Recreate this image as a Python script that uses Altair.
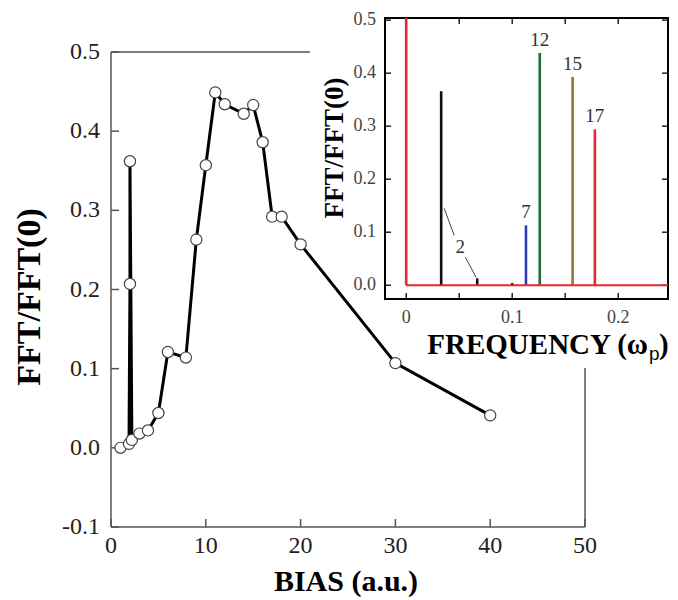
import altair as alt
import pandas as pd

SERIF = "Liberation Serif"

# ---------------- main panel data ----------------
bias = [1.0, 1.9, 2.0, 2.0, 2.2, 3.0, 3.9, 5.0, 6.0, 7.9, 9.0, 10.0, 11.0, 12.0,
        14.0, 15.0, 16.0, 17.0, 18.0, 20.0, 30.0, 40.0]
fft = [0.0, 0.005, 0.207, 0.362, 0.010, 0.018, 0.022, 0.044, 0.121, 0.114, 0.263,
       0.357, 0.449, 0.434, 0.422, 0.433, 0.386, 0.292, 0.292, 0.257, 0.107, 0.041]
x_ticks = [0, 10, 20, 30, 40, 50]
y_ticks = [-0.1, 0.0, 0.1, 0.2, 0.3, 0.4, 0.5]

# ---------------- inset data ----------------
peak_freq = [0.033, 0.067, 0.100, 0.113, 0.126, 0.157, 0.178, 0.0]
peak_amp = [0.366, 0.013, 0.004, 0.113, 0.438, 0.393, 0.294, 1.0]
peak_bias = ["2", "2", "2", "7", "12", "15", "17", "17"]
bias_colors = {"2": "#111111", "7": "#2a3db5", "12": "#1c6b36",
               "15": "#8a7a3c", "17": "#e8262d"}
label_text = ["7", "12", "15", "17"]
label_freq = [0.113, 0.126, 0.157, 0.178]
label_amp = [0.113, 0.438, 0.393, 0.294]
two_label = {"f": 0.051, "a": 0.072}
leader_f = [0.0358, 0.0557]
leader_a = [0.145, 0.053]
leader_f2 = [0.0453, 0.066]
leader_a2 = [0.094, 0.015]
ix_ticks = [0.0, 0.05, 0.1, 0.15, 0.2]
ix_labels = [0.0, 0.1, 0.2]
iy_ticks = [0.0, 0.1, 0.2, 0.3, 0.4, 0.5]

W, H = 474, 475

main_x = alt.Scale(domain=[0, 50], nice=False, zero=False)
main_y = alt.Scale(domain=[-0.1, 0.5], nice=False, zero=False)
ins_x = alt.Scale(domain=[-0.02, 0.247], range=[274, 557], nice=False, zero=False)
ins_y = alt.Scale(domain=[-0.026, 0.504], range=[247, -34], nice=False, zero=False, clamp=True)

one = alt.Data(values=[{"k": 1}])


def IX(f, **kw):
    return alt.X(f, scale=ins_x, axis=None, **kw)


def IY(f, **kw):
    return alt.Y(f, scale=ins_y, axis=None, **kw)


def MX(f):
    return alt.X(f, scale=main_x, axis=None)


def MY(f):
    return alt.Y(f, scale=main_y, axis=None)


AX = "#555"

# ---------------- main panel ----------------
df_main = pd.DataFrame({"bias": bias, "fft": fft, "i": list(range(len(bias)))})

line = alt.Chart(df_main).mark_line(color="black", strokeWidth=3).encode(
    x=MX("bias:Q"), y=MY("fft:Q"), order="i:Q")
points = alt.Chart(df_main).mark_circle(
    color="white", stroke="#444", strokeWidth=1.2, size=125, opacity=1).encode(
    x=MX("bias:Q"), y=MY("fft:Q"))

xt = alt.Chart(pd.DataFrame({"v": x_ticks})).mark_rule(color=AX, strokeWidth=1.5).encode(
    x=MX("v:Q"), y=alt.value(H), y2=alt.value(H - 8))
yt = alt.Chart(pd.DataFrame({"v": y_ticks})).mark_rule(color=AX, strokeWidth=1.5).encode(
    y=MY("v:Q"), x=alt.value(0), x2=alt.value(8))
xl = alt.Chart(pd.DataFrame({"v": x_ticks, "t": [str(v) for v in x_ticks]})).mark_text(
    font=SERIF, fontSize=24, color="#222", baseline="middle").encode(
    x=MX("v:Q"), y=alt.value(H + 19), text="t:N")
yl = alt.Chart(pd.DataFrame({"v": y_ticks, "t": [f"{v:.1f}" for v in y_ticks]})).mark_text(
    font=SERIF, fontSize=24, color="#222", baseline="middle", align="right").encode(
    y=MY("v:Q"), x=alt.value(-11), text="t:N")
left_rule = alt.Chart(one).mark_rule(color=AX, strokeWidth=1.5).encode(
    x=alt.value(0), y=alt.value(0), y2=alt.value(H))
bottom_rule = alt.Chart(one).mark_rule(color=AX, strokeWidth=1.5).encode(
    x=alt.value(0), x2=alt.value(W), y=alt.value(H))
top_rule = alt.Chart(one).mark_rule(color=AX, strokeWidth=1.5).encode(
    x=alt.value(0), x2=alt.value(199), y=alt.value(0))
right_rule = alt.Chart(one).mark_rule(color=AX, strokeWidth=1.5).encode(
    x=alt.value(W), y=alt.value(316), y2=alt.value(H))
mxtitle = alt.Chart(one).mark_text(
    text="BIAS (a.u.)", font=SERIF, fontSize=30, fontWeight="bold",
    baseline="alphabetic", align="center", color="black").encode(
    x=alt.value(235), y=alt.value(539))
mytitle = alt.Chart(one).mark_text(
    text="FFT/FFT(0)", font=SERIF, fontSize=34, fontWeight="bold", angle=270,
    baseline="middle", align="center", color="black").encode(
    x=alt.value(-81), y=alt.value(245))

main = alt.layer(left_rule, bottom_rule, top_rule, right_rule, xt, yt, xl, yl,
                 mxtitle, mytitle, line, points)

# ---------------- inset ----------------
frame = alt.Chart(one).mark_rect(fill="white", stroke="black", strokeWidth=2).encode(
    x=alt.value(274), x2=alt.value(557), y=alt.value(-34), y2=alt.value(247))

ixt_b = alt.Chart(pd.DataFrame({"v": ix_ticks})).mark_rule(color="black", strokeWidth=1.3).encode(
    x=IX("v:Q"), y=alt.value(247), y2=alt.value(241))
ixt_t = alt.Chart(pd.DataFrame({"v": ix_ticks})).mark_rule(color="black", strokeWidth=1.3).encode(
    x=IX("v:Q"), y=alt.value(-34), y2=alt.value(-28))
iyt_l = alt.Chart(pd.DataFrame({"v": iy_ticks})).mark_rule(color="black", strokeWidth=1.3).encode(
    y=IY("v:Q"), x=alt.value(274), x2=alt.value(280))
iyt_r = alt.Chart(pd.DataFrame({"v": iy_ticks})).mark_rule(color="black", strokeWidth=1.3).encode(
    y=IY("v:Q"), x=alt.value(557), x2=alt.value(551))

ixl = alt.Chart(pd.DataFrame({"v": ix_labels, "t": [f"{v:g}" for v in ix_labels]})).mark_text(
    font=SERIF, fontSize=18, color="#444", baseline="middle").encode(
    x=IX("v:Q"), y=alt.value(266), text="t:N")
iyl = alt.Chart(pd.DataFrame({"v": iy_ticks, "t": [f"{v:.1f}" for v in iy_ticks]})).mark_text(
    font=SERIF, fontSize=18, color="#444", baseline="middle", align="right").encode(
    y=IY("v:Q"), x=alt.value(265), text="t:N")

df_peaks = pd.DataFrame({"f": peak_freq, "a": peak_amp, "b": peak_bias,
                         "c": [bias_colors[b] for b in peak_bias],
                         "o": list(range(len(peak_freq)))})
peaks = alt.Chart(df_peaks).mark_rule(strokeWidth=2.6).encode(
    x=IX("f:Q"), y=IY("a:Q"), y2=alt.datum(0),
    color=alt.Color("c:N", scale=None), order="o:Q")
baseline = alt.Chart(one).mark_rule(color=bias_colors["17"], strokeWidth=2).encode(
    x=alt.datum(0.0, scale=ins_x, axis=None), x2=alt.datum(0.247),
    y=alt.datum(0.0, scale=ins_y, axis=None))

df_lab = pd.DataFrame({"t": label_text, "f": label_freq, "a": label_amp})
labels = alt.Chart(df_lab).mark_text(
    font=SERIF, fontSize=19, color="#333", baseline="bottom", dy=-3).encode(
    x=IX("f:Q"), y=IY("a:Q"), text="t:N")
lab2 = alt.Chart(alt.Data(values=[{"t": "2", **two_label}])).mark_text(
    font=SERIF, fontSize=19, color="#333", baseline="middle").encode(
    x=IX("f:Q"), y=IY("a:Q"), text="t:N")
leaders = alt.Chart(pd.DataFrame({"f": leader_f, "a": leader_a, "f2": leader_f2, "a2": leader_a2})).mark_rule(
    color="#444", strokeWidth=1).encode(
    x=IX("f:Q"), y=IY("a:Q"), x2="f2:Q", y2="a2:Q")

ytitle = alt.Chart(one).mark_text(
    text="FFT/FFT(0)", font=SERIF, fontSize=27, fontWeight="bold", angle=270,
    baseline="middle", align="center", color="black").encode(
    x=alt.value(224), y=alt.value(96))
xtitle = alt.Chart(one).mark_text(
    text="FREQUENCY (\u03c9", font=SERIF, fontSize=29, fontWeight="bold",
    baseline="alphabetic", align="right", color="black").encode(
    x=alt.value(537), y=alt.value(302))
xsub = alt.Chart(one).mark_text(
    text="p", font="Liberation Sans", fontSize=19, baseline="alphabetic",
    align="left", color="black").encode(x=alt.value(538), y=alt.value(308))
xclose = alt.Chart(one).mark_text(
    text=")", font=SERIF, fontSize=29, fontWeight="bold", baseline="alphabetic",
    align="left", color="black").encode(x=alt.value(548), y=alt.value(302))

inset = alt.layer(frame, ixt_b, ixt_t, iyt_l, iyt_r, ixl, iyl, peaks, baseline,
                  leaders, labels, lab2, ytitle, xtitle, xsub, xclose)

chart = alt.layer(main, inset).resolve_scale(
    x="independent", y="independent").properties(
    width=W, height=H, autosize="none",
    padding={"left": 103, "top": 44, "right": 85, "bottom": 73},
    background="white").configure_view(strokeWidth=0)

chart.save("out.html", embed_options={"renderer": "svg", "actions": False})
